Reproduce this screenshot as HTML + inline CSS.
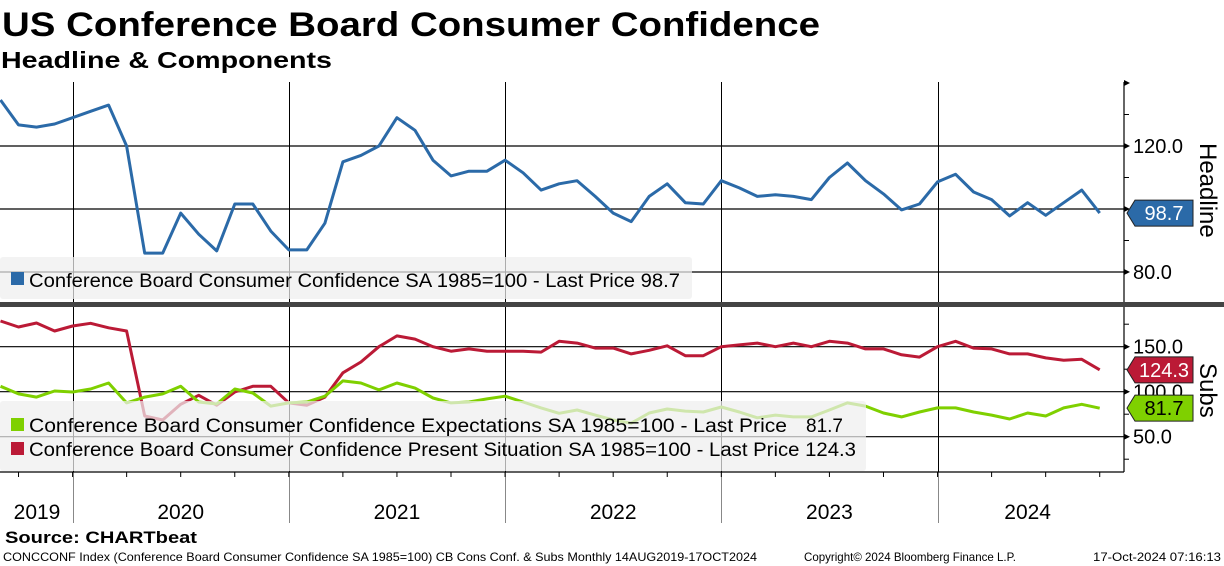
<!DOCTYPE html>
<html><head><meta charset="utf-8">
<style>
html,body{margin:0;padding:0;background:#fff;}
body{width:1224px;height:566px;overflow:hidden;font-family:"Liberation Sans",sans-serif;}
svg{display:block;}
</style></head>
<body>
<svg id="chart" width="1224" height="566" viewBox="0 0 1224 566" xmlns="http://www.w3.org/2000/svg" font-family="Liberation Sans, sans-serif">
  <text x="2" y="36" font-size="34" font-weight="bold" textLength="818" lengthAdjust="spacingAndGlyphs">US Conference Board Consumer Confidence</text>
  <text x="1" y="68" font-size="23" font-weight="bold" textLength="331" lengthAdjust="spacingAndGlyphs">Headline &amp; Components</text>
  <g id="grid"></g>
  <g id="series"></g>
  <g id="overlay"></g>
  <text x="5" y="543" font-size="17" font-weight="bold" textLength="192" lengthAdjust="spacingAndGlyphs">Source: CHARTbeat</text>
  <text x="3" y="561" font-size="12" textLength="754" lengthAdjust="spacingAndGlyphs">CONCCONF Index (Conference Board Consumer Confidence SA 1985=100) CB Cons Conf. &amp; Subs  Monthly 14AUG2019-17OCT2024</text>
  <text x="804" y="561" font-size="12" textLength="212" lengthAdjust="spacingAndGlyphs">Copyright© 2024 Bloomberg Finance L.P.</text>
  <text x="1093" y="561" font-size="12" textLength="128" lengthAdjust="spacingAndGlyphs">17-Oct-2024 07:16:13</text>
</svg>
<script>
// Monthly data Aug 2019 - Sep 2024
const headline = [134.6,126.7,126,127,129,
 131,133,120,86,86,98.7,92,86.7,101.6,101.6,93,87,
 87,95.5,115,117,120,129,125,115.5,110.5,112,112,115.5,
 111.5,106,108,109,104,98.7,96,104,108,102,101.6,109,
 106.7,104,104.5,104,103,110,114.6,109,104.8,99.7,101.6,108.6,
 111,105.4,103,97.8,102,98,102,106,98.7];
const presentSituation = [178.6,171.9,176.3,167.4,173,176,171,167.4,73,68.6,86,96,85,99.7,106,106,87.5,85,94,121,133,150,162,158.5,150,145,147.5,145,145,145,144,156,
 154,148.5,148.5,142,146,151,140,140,150,152,154,150,154,150,156,154,147.5,147.5,141,138.5,150,156,148.5,147.5,142,142,137.5,135,136,124.3];
const expectations = [106,97.5,94,100.8,99.7,103,109.7,87.5,94,97.5,106,88.6,86.3,103,98.6,84,87.5,88.6,95,112,109.7,102,109.7,104,93,87.5,88.6,92,95,88.6,82,76,
 79.7,74,68.6,65,76.3,80.8,78.5,77.4,83,77.4,71,74,72,72,79.7,87.5,84,76.3,72,77.4,82,82,77.4,74,69.7,76.3,73,82,86,81.7];
const years = ["2019","2020","2021","2022","2023","2024"];
const headlineTicks = [80,120];
const subsTicks = [50,100,150];

const NS="http://www.w3.org/2000/svg";
const grid=document.getElementById('grid'), ser=document.getElementById('series'), ov=document.getElementById('overlay');
function mk(tag,attrs,parent){const e=document.createElementNS(NS,tag);for(const k in attrs)e.setAttribute(k,attrs[k]);parent.appendChild(e);return e;}
const X=i=>0.5+i*18.02;
const yTop=v=>146+(120-v)*3.15;
const yBot=v=>346.7+(150-v)*0.9;
const AX=1124;

// panel gridlines
[100,120].forEach(v=>{const l=mk('line',{x1:0,x2:AX,y1:yTop(v),y2:yTop(v),stroke:'#000','stroke-width':1.2},grid);
});
[80].forEach(v=>{const l=mk('line',{x1:0,x2:AX,y1:yTop(v),y2:yTop(v),stroke:'#000','stroke-width':1.2},grid);
});
[50,100,150].forEach(v=>{const l=mk('line',{x1:0,x2:AX,y1:yBot(v),y2:yBot(v),stroke:'#000','stroke-width':1.2},grid);
});
// year separators
for(let y=1;y<years.length;y++){const x=Math.round(X(4+(y-1)*12))+0.5;
 const l=mk('line',{x1:x,x2:x,y1:82,y2:472,stroke:'#000','stroke-width':1},grid);
 
 const l2=mk('line',{x1:x,x2:x,y1:472,y2:523,stroke:'#888','stroke-width':1},grid);
 }

function poly(arr,yf,color,name){const p=mk('polyline',{points:arr.map((v,i)=>X(i).toFixed(1)+','+yf(v).toFixed(1)).join(' '),fill:'none',stroke:color,'stroke-width':3,'stroke-linejoin':'round'},ser);
 }
poly(headline,yTop,'#2b6aa8','headline-line');
poly(presentSituation,yBot,'#bb1a36','present-situation-line');
poly(expectations,yBot,'#7fd000','expectations-line');

// legends (semi transparent)
let r=mk('rect',{x:0,y:257,width:692,height:42,fill:'rgba(238,238,238,0.72)',rx:3},ov);

mk('rect',{x:11,y:272,width:13,height:13,fill:'#2b6aa8'},ov);
let t=mk('text',{x:29,y:287,'font-size':19,textLength:651,lengthAdjust:'spacingAndGlyphs'},ov);t.textContent='Conference Board Consumer Confidence SA 1985=100 - Last Price 98.7';


r=mk('rect',{x:0,y:401,width:866,height:70,fill:'rgba(238,238,238,0.72)',rx:3},ov);

mk('rect',{x:11,y:418,width:13,height:13,fill:'#7fd000'},ov);
t=mk('text',{x:29,y:432,'font-size':19,textLength:758,lengthAdjust:'spacingAndGlyphs'},ov);t.textContent='Conference Board Consumer Confidence Expectations SA 1985=100 - Last Price';

t=mk('text',{x:806,y:432,'font-size':19},ov);t.textContent='81.7';

mk('rect',{x:11,y:442,width:13,height:13,fill:'#bb1a36'},ov);
t=mk('text',{x:29,y:456,'font-size':19,textLength:827,lengthAdjust:'spacingAndGlyphs'},ov);t.textContent='Conference Board Consumer Confidence Present Situation SA 1985=100 - Last Price 124.3';


// panel separator
r=mk('rect',{x:0,y:302,width:1224,height:5,fill:'#444'},ov);

// right axes
let a=mk('line',{x1:AX,x2:AX,y1:82,y2:302,stroke:'#000','stroke-width':1.2},ov);
a=mk('line',{x1:AX,x2:AX,y1:307,y2:472,stroke:'#000','stroke-width':1.2},ov);
function tick(y){mk('polygon',{points:`${AX},${y-3} ${AX+6},${y} ${AX},${y+3}`,fill:'#000'},ov);}
[140,120,100,80].forEach(v=>tick(yTop(v)));
[130,110,90].forEach(v=>mk('line',{x1:AX,x2:AX+5,y1:yTop(v),y2:yTop(v),stroke:'#000'},ov));
headlineTicks.forEach(v=>{const tt=mk('text',{x:AX+9,y:yTop(v)+7,'font-size':20},ov);tt.textContent=v.toFixed(1);
 });
subsTicks.forEach(v=>{tick(yBot(v));const tt=mk('text',{x:AX+9,y:yBot(v)+7,'font-size':20},ov);tt.textContent=v.toFixed(1);
 });
[175,125,75,25].forEach(v=>mk('line',{x1:AX,x2:AX+5,y1:yBot(v),y2:yBot(v),stroke:'#000'},ov));
// last value tags
function tag(yc,val,col,fg,name){const g=mk('g',{},ov);
 mk('polygon',{points:`${AX+3},${yc} ${AX+11},${yc-13} ${AX+69},${yc-13} ${AX+69},${yc+13} ${AX+11},${yc+13}`,fill:col,stroke:'#222','stroke-width':1},g);
 const tt=mk('text',{x:AX+40,y:yc+7,'font-size':20,fill:fg,'text-anchor':'middle'},g);tt.textContent=val;}
tag(yTop(headline[headline.length-1]),headline[headline.length-1].toFixed(1),'#2b6aa8','#fff','headline-last-tag');
tag(yBot(presentSituation[presentSituation.length-1]),presentSituation[presentSituation.length-1].toFixed(1),'#bb1a36','#fff','present-last-tag');
tag(yBot(expectations[expectations.length-1]),expectations[expectations.length-1].toFixed(1),'#7fd000','#000','expectations-last-tag');
// axis titles
t=mk('text',{x:0,y:0,'font-size':24,transform:'translate(1200,143) rotate(90)'},ov);t.textContent='Headline';

t=mk('text',{x:0,y:0,'font-size':24,transform:'translate(1200,363) rotate(90)'},ov);t.textContent='Subs';

// x axis
a=mk('line',{x1:0,x2:AX,y1:472,y2:472,stroke:'#000','stroke-width':1.2},ov);
for(let i=1;i<headline.length;i+=3){mk('line',{x1:X(i),x2:X(i),y1:472,y2:477,stroke:'#000'},ov);}
years.forEach((yr,k)=>{const s=k===0?0:4+(k-1)*12;const e=k===0?4:Math.min(s+12,headline.length-1+1);
 const cx=k===0?37:(X(s)+X(Math.min(e,s+12)))/2;
 const tt=mk('text',{x:cx,y:519,'font-size':21,'text-anchor':'middle'},ov);tt.textContent=yr;
 });
</script>
</body></html>
